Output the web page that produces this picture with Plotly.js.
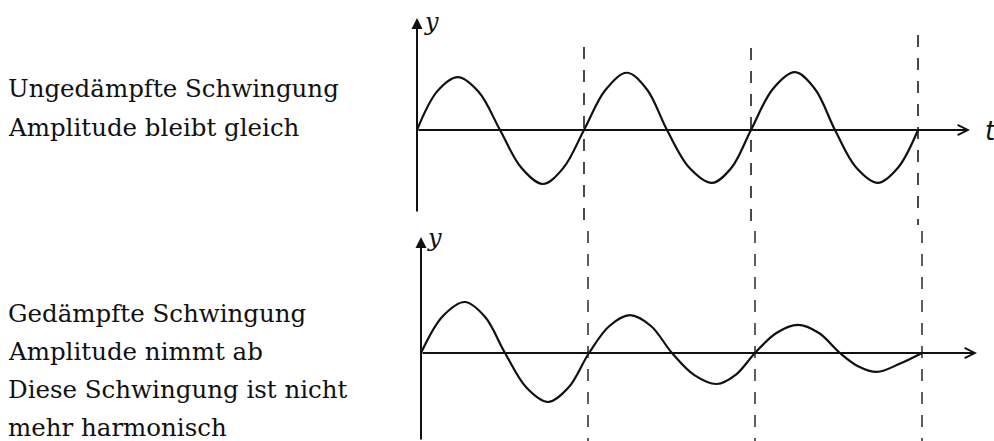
<!DOCTYPE html>
<html>
<head>
<meta charset="utf-8">
<script src="https://cdn.plot.ly/plotly-3.0.1.min.js"></script>
<style>
  html, body { margin: 0; padding: 0; background: #ffffff; }
  #chart { width: 994px; height: 441px; }
</style>
</head>
<body>
<div id="chart"></div>
<script>
// Undamped oscillation (t in periods, y in units of the first amplitude)
const tUndamped = [0, 0.122, 0.245, 0.371, 0.497, 0.625, 0.754, 0.877, 1.0,
                   1.128, 1.257, 1.377, 1.497, 1.631, 1.766, 1.883, 2.0,
                   2.131, 2.263, 2.383, 2.503, 2.631, 2.76, 2.88, 3.0];
const yUndamped = [0, 0.72, 0.98, 0.70, 0, -0.70, -1.0, -0.70, 0,
                   0.74, 1.06, 0.75, 0, -0.70, -0.98, -0.70, 0,
                   0.76, 1.07, 0.76, 0, -0.70, -0.98, -0.70, 0];

// Damped oscillation: amplitude shrinks from period to period
const tDamped = [0, 0.13, 0.263, 0.383, 0.503, 0.631, 0.76, 0.883, 1.006,
                 1.128, 1.251, 1.377, 1.503, 1.637, 1.772, 1.886, 2.0,
                 2.128, 2.257, 2.383, 2.509, 2.62, 2.731, 2.866, 3.0];
const yDamped = [0, 0.68, 0.944, 0.67, 0, -0.64, -0.907, -0.64, 0,
                 0.50, 0.70, 0.50, 0, -0.41, -0.574, -0.40, 0,
                 0.37, 0.52, 0.37, 0, -0.25, -0.35, -0.20, 0];

// Period markers (dashed verticals)
const periodMarks = [1, 2, 3];

// Captions
const captionUndamped = ['Ungedämpfte Schwingung', 'Amplitude bleibt gleich'];
const captionDamped = ['Gedämpfte Schwingung', 'Amplitude nimmt ab', 'Diese Schwingung ist nicht', 'mehr harmonisch'];

// ---- page geometry (pixels) ----
const W = 994, H = 441;
const PX_PER_T = 167, PX_PER_Y = 54;
const split = 225;                 // row separating the two panels
const top0 = {x: 417, y: 130};     // origin of the upper diagram
const bot0 = {x: 421, y: 353};     // origin of the lower diagram

const px2paperY = p => 1 - p / H;

const ink = '#111111';
const curveStyle = {color: ink, width: 2.2, shape: 'spline', smoothing: 1.0};

const traces = [
  {x: tUndamped, y: yUndamped, xaxis: 'x', yaxis: 'y', mode: 'lines', line: curveStyle, hoverinfo: 'skip'},
  {x: tDamped, y: yDamped, xaxis: 'x2', yaxis: 'y2', mode: 'lines', line: curveStyle, hoverinfo: 'skip'}
];

const hidden = {showgrid: false, zeroline: false, showticklabels: false, ticks: '', showline: false, fixedrange: true};

const layout = {
  width: W, height: H,
  margin: {l: 0, r: 0, t: 0, b: 0, pad: 0},
  paper_bgcolor: '#ffffff',
  plot_bgcolor: 'rgba(0,0,0,0)',
  showlegend: false,
  xaxis: Object.assign({}, hidden, {domain: [0, 1], anchor: 'y',
    range: [-top0.x / PX_PER_T, (W - top0.x) / PX_PER_T]}),
  yaxis: Object.assign({}, hidden, {domain: [px2paperY(split), 1], anchor: 'x',
    range: [(top0.y - split) / PX_PER_Y, top0.y / PX_PER_Y]}),
  xaxis2: Object.assign({}, hidden, {domain: [0, 1], anchor: 'y2',
    range: [-bot0.x / PX_PER_T, (W - bot0.x) / PX_PER_T]}),
  yaxis2: Object.assign({}, hidden, {domain: [0, px2paperY(split)], anchor: 'x2',
    range: [(bot0.y - H) / PX_PER_Y, (bot0.y - split) / PX_PER_Y]}),
  shapes: [],
  annotations: []
};

// dashed period markers through both diagrams
const dashTopStart = [47, 48, 35];
periodMarks.forEach((k, i) => {
  layout.shapes.push({type: 'line', xref: 'x', yref: 'y',
    x0: k, x1: k, y0: (top0.y - dashTopStart[i]) / PX_PER_Y, y1: (top0.y - split) / PX_PER_Y,
    line: {color: '#1c1c1c', width: 1.6, dash: '12px,11px'}});
  layout.shapes.push({type: 'line', xref: 'x2', yref: 'y2',
    x0: k, x1: k, y0: (bot0.y - split - 6) / PX_PER_Y, y1: (bot0.y - H) / PX_PER_Y,
    line: {color: '#2a2a2a', width: 1.5, dash: '12px,11px'}});
});

// axis arrows
function arrow(xr, yr, x0, y0, x1, y1, head, size) {
  return {xref: xr, yref: yr, axref: xr, ayref: yr, x: x1, y: y1, ax: x0, ay: y0,
    text: '', showarrow: true, arrowhead: head, arrowsize: size, arrowwidth: 2,
    arrowcolor: ink, standoff: 0, startstandoff: 0};
}
layout.annotations.push(arrow('x', 'y', 0, (top0.y - 213) / PX_PER_Y, 0, (top0.y - 18) / PX_PER_Y, 2, 1.1));
layout.annotations.push(arrow('x', 'y', 0, 0, (970 - top0.x) / PX_PER_T, 0, 5, 1.0));
layout.annotations.push(arrow('x2', 'y2', 0, (bot0.y - H) / PX_PER_Y, 0, (bot0.y - 237) / PX_PER_Y, 2, 1.1));
layout.annotations.push(arrow('x2', 'y2', 0, 0, (977 - bot0.x) / PX_PER_T, 0, 5, 1.0));

// axis letters
function label(text, px, py, font) {
  return {xref: 'paper', yref: 'paper', x: px / W, y: px2paperY(py), text: text,
    showarrow: false, xanchor: 'center', yanchor: 'middle', font: font};
}
const letterFont = {family: 'DejaVu Serif', size: 24, color: ink, style: 'italic'};
layout.annotations.push(label('y', 431, 22, letterFont));
layout.annotations.push(label('y', 434, 238, letterFont));
layout.annotations.push(label('t', 990, 131, {family: 'DejaVu Sans', size: 26, color: ink, style: 'italic'}));

// captions on the left
const captionFont = {family: 'DejaVu Serif', size: 24.5, color: '#111111'};
function caption(lines, centers) {
  lines.forEach((txt, i) => {
    layout.annotations.push({xref: 'paper', yref: 'paper', x: 6 / W, y: px2paperY(centers[i]),
      text: txt, showarrow: false, xanchor: 'left', yanchor: 'middle', font: captionFont});
  });
}
caption(captionUndamped, [89, 127]);
caption(captionDamped, [313, 351, 389, 427]);

Plotly.newPlot('chart', traces, layout, {staticPlot: true, displayModeBar: false});
</script>
</body>
</html>
